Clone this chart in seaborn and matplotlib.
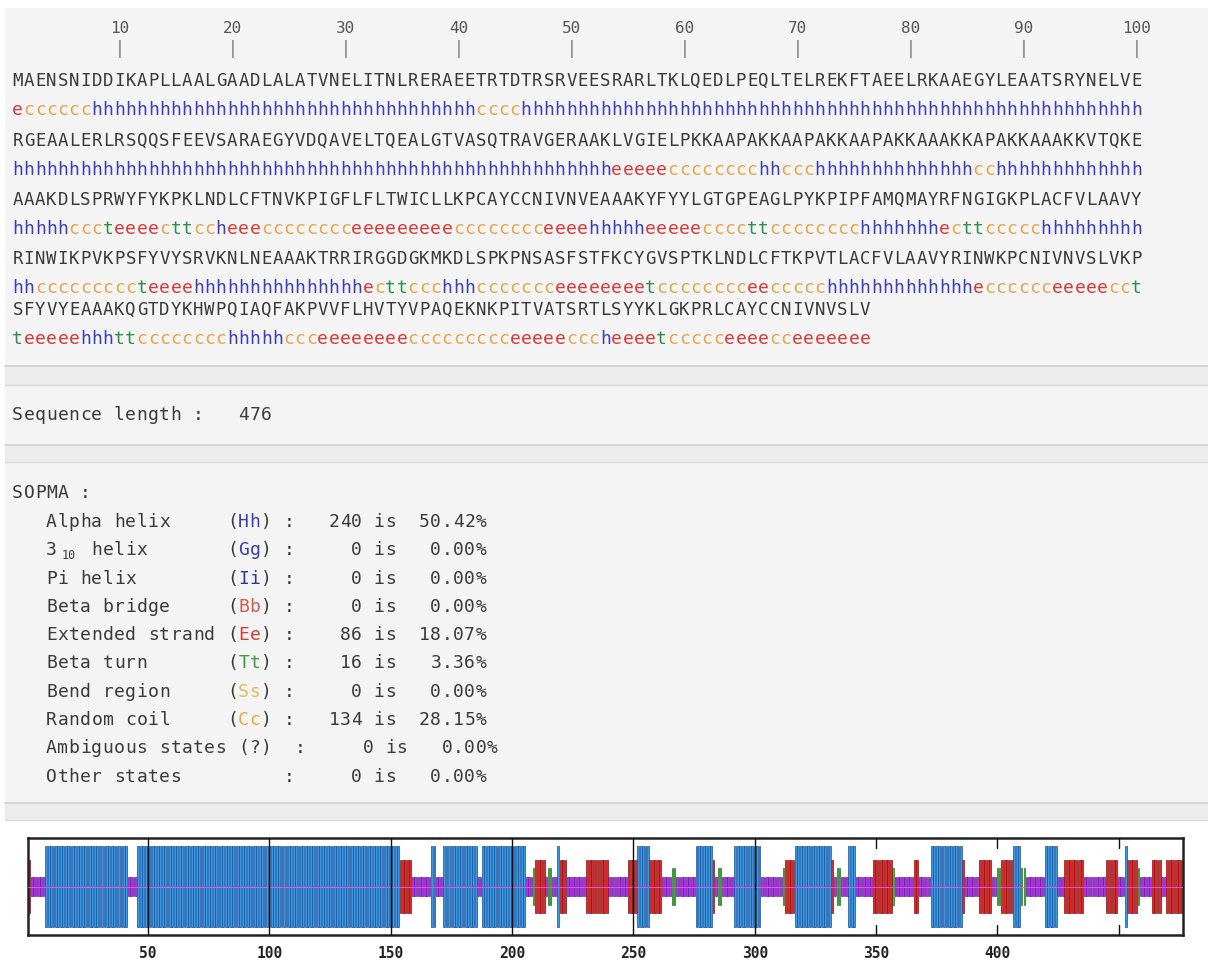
import matplotlib
matplotlib.use("Agg")
import matplotlib.pyplot as plt
from matplotlib.patches import Rectangle
import numpy as np
import pandas as pd
import seaborn as sns

# amino acid sequence, 100 residues per row
aa_rows = [
    "MAENSNIDDIKAPLLAALGAADLALATVNELITNLRERAEETRTDTRSRVEESRARLTKLQEDLPEQLTELREKFTAEELRKAAEGYLEAATSRYNELVE",
    "RGEAALERLRSQQSFEEVSARAEGYVDQAVELTQEALGTVASQTRAVGERAAKLVGIELPKKAAPAKKAAPAKKAAPAKKAAAKKAPAKKAAAKKVTQKE",
    "AAAKDLSPRWYFYKPKLNDLCFTNVKPIGFLFLTWICLLKPCAYCCNIVNVEAAAKYFYYLGTGPEAGLPYKPIPFAMQMAYRFNGIGKPLACFVLAAVY",
    "RINWIKPVKPSFYVYSRVKNLNEAAAKTRRIRGGDGKMKDLSPKPNSASFSTFKCYGVSPTKLNDLCFTKPVTLACFVLAAVYRINWKPCNIVNVSLVKP",
    "SFYVYEAAAKQGTDYKHWPQIAQFAKPVVFLHVTYVPAQEKNKPITVATSRTLSYYKLGKPRLCAYCCNIVNVSLV",
]

# SOPMA prediction per row, run-length encoded (state, count)
ss_runs = [
    [("e", 1), ("c", 6), ("h", 34), ("c", 4), ("h", 55)],
    [("h", 53), ("e", 5), ("c", 8), ("h", 2), ("c", 3), ("h", 14), ("c", 2), ("h", 13)],
    [("h", 5), ("c", 3), ("t", 1), ("e", 4), ("c", 1), ("t", 2), ("c", 2), ("h", 1), ("e", 3),
     ("c", 8), ("e", 9), ("c", 8), ("e", 4), ("h", 5), ("e", 5), ("c", 4), ("t", 2), ("c", 8),
     ("h", 7), ("e", 1), ("c", 1), ("t", 2), ("c", 5), ("h", 9)],
    [("h", 2), ("c", 9), ("t", 1), ("e", 4), ("h", 15), ("e", 1), ("c", 1), ("t", 2), ("c", 3),
     ("h", 3), ("c", 7), ("e", 8), ("t", 1), ("c", 8), ("e", 2), ("c", 5), ("h", 13), ("e", 1),
     ("c", 6), ("e", 5), ("c", 2), ("t", 1)],
    [("t", 1), ("e", 5), ("h", 3), ("t", 2), ("c", 8), ("h", 5), ("c", 3), ("e", 8), ("c", 9),
     ("e", 5), ("c", 3), ("h", 1), ("e", 4), ("t", 1), ("c", 5), ("e", 4), ("c", 2), ("e", 7)],
]
ss_rows = ["".join(s * n for s, n in runs) for runs in ss_runs]

header_pos = [10, 20, 30, 40, 50, 60, 70, 80, 90, 100]
seq_length = 476

state_names = ["Alpha helix", "3 helix", "Pi helix", "Beta bridge", "Extended strand",
               "Beta turn", "Bend region", "Random coil"]
state_codes = ["Hh", "Gg", "Ii", "Bb", "Ee", "Tt", "Ss", "Cc"]
state_counts = [240, 0, 0, 0, 86, 16, 0, 134]
state_pcts = ["50.42%", "0.00%", "0.00%", "0.00%", "18.07%", "3.36%", "0.00%", "28.15%"]

plot_ticks = [50, 100, 150, 200, 250, 300, 350, 400]

sns.set_theme(style="white")
plt.rcParams["font.family"] = ["DejaVu Sans Mono", "DejaVu Sans"]

txt_col = "#3a3a3a"
ss_text_col = {"h": "#3c3cc0", "e": "#d83a3a", "c": "#e6a64c", "t": "#2f8f4a"}
code_col = {"Hh": "#3c3cb4", "Gg": "#3c3cb4", "Ii": "#28389c", "Bb": "#d45c4c",
            "Ee": "#d83c3c", "Tt": "#3c9c3c", "Ss": "#e8b860", "Cc": "#e8a848"}

fig = plt.figure(figsize=(12.08, 9.69), dpi=100)
bg = fig.add_axes([0, 0, 1, 1])
bg.set_xlim(0, 1208)
bg.set_ylim(969, 0)
bg.axis("off")

# panels and separator bands
for y0, y1 in [(8, 366), (385, 445), (462, 803)]:
    bg.add_patch(Rectangle((5, y0), 1203, y1 - y0, fc="#f4f4f4", ec="none"))
for y0, y1 in [(366, 385), (445, 462), (803, 820)]:
    bg.add_patch(Rectangle((5, y0), 1203, y1 - y0, fc="#ececec", ec="none"))
    bg.plot([5, 1208], [y0, y0], color="#d0d0d0", lw=1.2)
    bg.plot([5, 1208], [y1, y1], color="#dadada", lw=1.0)

step = 11.3
x0 = 12


def mono(y, s, col=txt_col, size=13, colors=None):
    for i, ch in enumerate(s):
        if ch == " ":
            continue
        c = colors[ch] if colors else col
        bg.text(x0 + (i + 0.5) * step, y, ch, ha="center", va="center",
                fontsize=size, color=c)


# position ruler
for p in header_pos:
    xc = x0 + (p - 0.5) * step
    bg.text(xc, 28, str(p), ha="center", va="center", fontsize=11.5, color="#555555")
    bg.text(xc, 49, "|", ha="center", va="center", fontsize=12, color="#777777")

aa_y = [81, 141, 200, 259, 310]
ss_y = [110, 170, 229, 288, 339]
for k in range(len(aa_rows)):
    mono(aa_y[k], aa_rows[k], size=12.5)
    mono(ss_y[k], ss_rows[k], size=13, colors=ss_text_col)

mono(415, "Sequence length :   %d" % seq_length)

# SOPMA table
mono(493, "SOPMA :")
row_y = 522
for name, code, cnt, pct in zip(state_names, state_codes, state_counts, state_pcts):
    if code == "Gg":
        line = "   3   helix       (  ) : %5d is %7s" % (cnt, pct)
        bg.text(x0 + 5.0 * step, row_y + 5, "10", ha="center", va="center",
                fontsize=8.5, color=txt_col)
    else:
        line = "   %-16s(  ) : %5d is %7s" % (name, cnt, pct)
    mono(row_y, line)
    bg.text(x0 + 20.5 * step, row_y, code[0], ha="center", va="center",
            fontsize=13, color=code_col[code])
    bg.text(x0 + 21.5 * step, row_y, code[1], ha="center", va="center",
            fontsize=13, color=code_col[code])
    row_y += 28.3
mono(row_y, "   Ambiguous states (?)  : %5d is %7s" % (0, "0.00%"))
row_y += 28.3
mono(row_y, "   %-21s: %5d is %7s" % ("Other states", 0, "0.00%"))

# secondary structure plot
ss_all = "".join(ss_rows)
df = pd.DataFrame({"pos": np.arange(1, len(ss_all) + 1), "ss": list(ss_all)})
half = {"h": 0.42, "e": 0.27, "t": 0.19, "c": 0.10}
fill = {"h": "#2e9de6", "e": "#e82424", "t": "#38c838", "c": "#b232ee"}
edge = {"h": "#1a4e9e", "e": "#8c1212", "t": "#1a7a1a", "c": "#6a1c9e"}
width = {"h": 0.75, "e": 0.75, "t": 0.45, "c": 0.75}

ax = fig.add_axes([28 / 1208, 34 / 969, 1155 / 1208, 97 / 969])
ax.set_facecolor("white")
for s in ["c", "t", "e", "h"]:
    d = df[df["ss"] == s]
    hh = half[s]
    ax.bar(d["pos"], 2 * hh, bottom=-hh, width=width[s], color=fill[s],
           edgecolor=edge[s], linewidth=0.5, zorder=2)
ax.axhline(0, color="#ff4cff", lw=0.6, zorder=3)
ax.set_xlim(0.5, seq_length + 0.5)
ax.set_ylim(-0.5, 0.5)
for t in [50, 100, 150, 200, 250, 300]:
    ax.plot([t, t], [-0.5, 0.5], color="#111111", lw=1, zorder=4)
for t in [350, 400, 450]:
    ax.plot([t, t], [0.5, 0.4], color="#111111", lw=1, zorder=4)
    ax.plot([t, t], [-0.5, -0.4], color="#111111", lw=1, zorder=4)
ax.set_yticks([])
ax.set_xticks(plot_ticks)
ax.set_xticklabels([str(t) for t in plot_ticks], fontsize=10.5, fontweight="bold",
                   color="#222222")
ax.tick_params(axis="x", length=0, pad=8)
for sp in ax.spines.values():
    sp.set_color("#222222")
    sp.set_linewidth(1.8)
    sp.set_visible(True)

fig.savefig("out.png", dpi=100, facecolor="white")
